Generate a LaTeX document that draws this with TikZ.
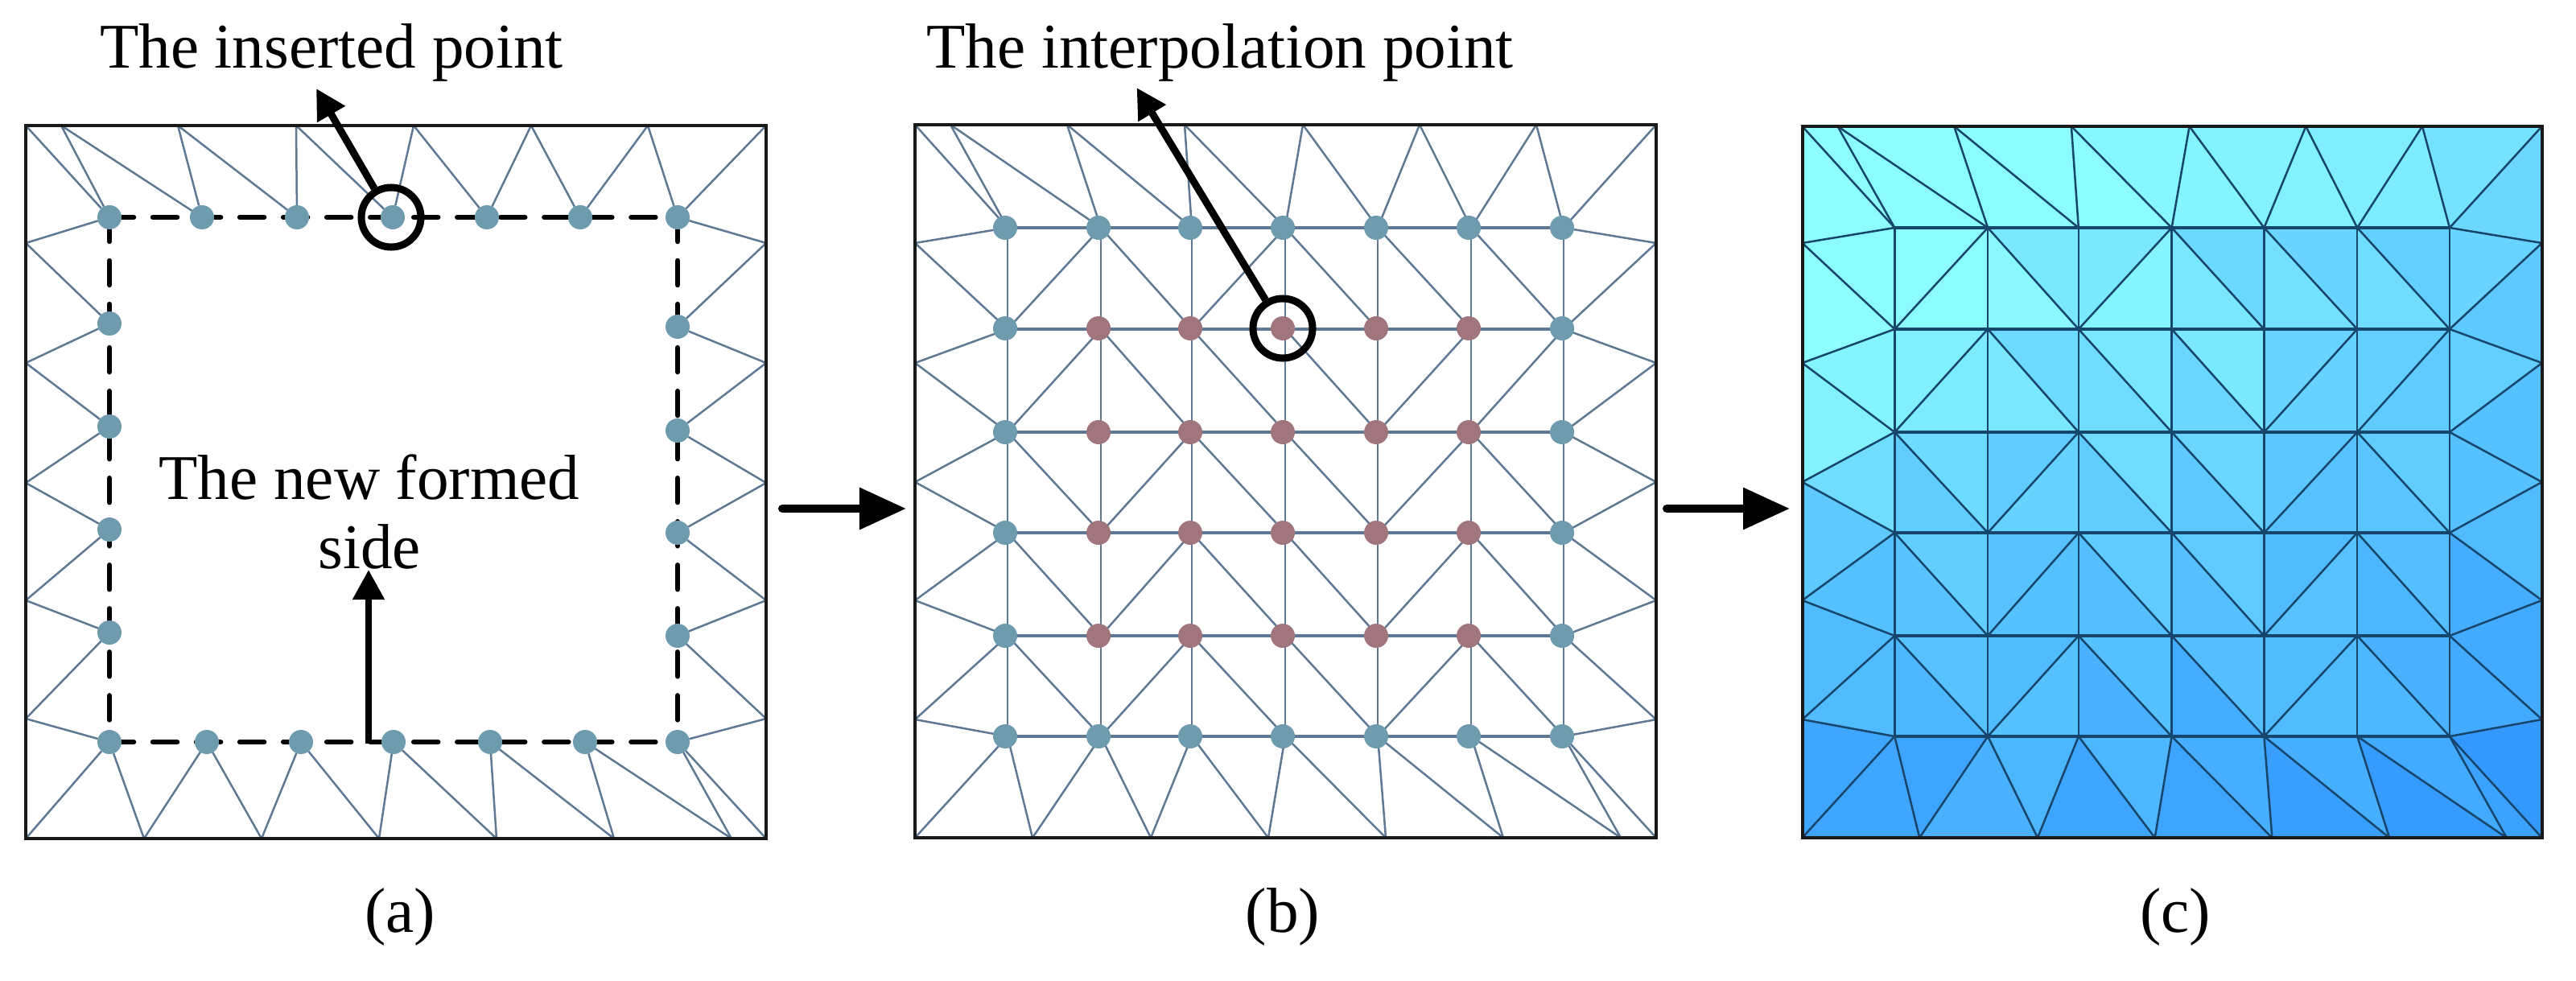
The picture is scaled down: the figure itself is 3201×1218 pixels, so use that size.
\documentclass[tikz,border=0pt]{standalone}
\usepackage{fontspec}
\setmainfont{Liberation Serif}
\usetikzlibrary{arrows.meta}
\pgfdeclarelayer{front}
\pgfsetlayers{main,front}
\definecolor{clight}{HTML}{8EFFFF}
\definecolor{cdark}{HTML}{3399FF}
\definecolor{meshgrey}{HTML}{5F7893}
\definecolor{meshdark}{HTML}{17466C}
\definecolor{dotteal}{HTML}{6F9BAE}
\definecolor{dotred}{HTML}{A0757C}
\tikzset{
  x=0.01cm,y=-0.01cm,
  frameline/.style={draw=black!90,line width=0.04cm,line join=miter},
  meshthin/.style={line width=0.025cm},
  meshthick/.style={line width=0.036cm},
  tealdot/.style={circle,fill=dotteal,inner sep=0pt,outer sep=0pt,minimum size=0.30cm},
  reddot/.style={circle,fill=dotred,inner sep=0pt,outer sep=0pt,minimum size=0.30cm},
  ringmark/.style={circle,draw=black,line width=0.09cm,inner sep=0pt,minimum size=0.74cm},
  pointer/.style={draw=black,line width=0.09cm,-{Triangle[length=0.37cm,width=0.38cm]}},
  bigarrow/.style={draw=black,line width=0.10cm,line cap=round,-{Triangle[length=0.58cm,width=0.50cm]}},
  newside/.style={draw=black,line width=0.065cm,line cap=round,dash pattern=on 0.30cm off 0.24cm},
  lab/.style={anchor=base,inner sep=0pt,font=\fontsize{22.5}{27}\selectfont,align=center},
}
% outer boundary and inner grid of the mesh shared by panels b and c
\newcommand\meshpoints[2]{%
  \foreach \n/\xv in {0/1137,1/1181,2/1326,3/1472,4/1619,5/1764,6/1909,7/2058}{\coordinate (#1t\n) at (\xv,#2);}
  \foreach \n/\xv in {0/1137,1/1283,2/1430,3/1576,4/1722,5/1868,6/2014,7/2058}{\coordinate (#1b\n) at (\xv,1041);}
  \foreach \n/\yv in {1/302,2/451,3/599,4/746,5/894}{\coordinate (#1l\n) at (1137,\yv);\coordinate (#1r\n) at (2058,\yv);}
  \foreach \i/\xv in {0/1252,1/1368,2/1481,3/1597,4/1712,5/1828,6/1943}{
    \foreach \j/\yv in {0/283,1/409,2/537,3/662,4/790,5/915}{\coordinate (#1n\i\j) at (\xv,\yv);}}
}
\newcommand\meshlines[1]{%
  \foreach \pa/\pb in {t0/n00,t1/n00,t1/n10,t2/n10,t2/n20,t3/n20,t3/n30,t4/n30,t4/n40,t5/n40,t5/n50,t6/n50,t6/n60,t7/n60,
    n00/l1,l1/n01,n01/l2,l2/n02,n02/l3,l3/n03,n03/l4,l4/n04,n04/l5,l5/n05,n05/b0,n05/b1,b1/n15,n15/b2,b2/n25,n25/b3,b3/n35,n35/b4,b4/n45,n45/b5,b5/n55,n55/b6,b6/n65,n65/b7,
    n60/r1,r1/n61,n61/r2,r2/n62,n62/r3,r3/n63,n63/r4,r4/n64,n64/r5,r5/n65,
    n10/n01,n10/n21,n30/n21,n30/n41,n40/n51,n50/n61,
    n11/n02,n11/n22,n21/n32,n31/n42,n51/n42,n61/n52,
    n02/n13,n22/n13,n22/n33,n32/n43,n52/n43,n52/n63,
    n03/n14,n23/n14,n23/n34,n33/n44,n53/n44,n53/n64,
    n04/n15,n24/n15,n24/n35,n34/n45,n54/n45,n54/n65}
    {\draw[meshthin] (#1\pa) -- (#1\pb);}
  \foreach \j in {0,...,5}{\draw[meshthick] (#1n0\j) -- (#1n6\j);}
  \foreach \i in {0,...,6}{\draw[meshthin] (#1n\i0) -- (#1n\i5);}
}
\begin{document}
\begin{tikzpicture}
\useasboundingbox (0,0) rectangle (3201,1218);

% ---------- panel (a) ----------
\foreach \n/\xv in {0/32,1/76,2/221,3/368,4/514,5/660,6/805,7/952}{\coordinate (at\n) at (\xv,156);}
\foreach \n/\xv in {0/32,1/179,2/325,3/471,4/617,5/763,6/909,7/952}{\coordinate (ab\n) at (\xv,1042);}
\foreach \n/\yv in {1/302,2/451,3/600,4/746,5/893}{\coordinate (al\n) at (32,\yv);\coordinate (ar\n) at (952,\yv);}
\begin{pgfonlayer}{front}
\foreach \n/\xv in {1/136,2/251,3/369,4/488,5/605,6/721,7/842}{\node[tealdot] (ad\n) at (\xv,270) {};}
\foreach \n/\yv in {2/402,3/530,4/658,5/786}{\node[tealdot] (ae\n) at (136,\yv) {};}
\foreach \n/\yv in {2/406,3/535,4/662,5/790}{\node[tealdot] (af\n) at (842,\yv) {};}
\foreach \n/\xv in {1/136,2/257,3/374,4/489,5/609,6/727,7/842}{\node[tealdot] (ag\n) at (\xv,922) {};}
\node[ringmark] (ringa) at (486,270) {};
\end{pgfonlayer}
\draw[meshgrey,meshthin]
  (at0)--(ad1) (at1)--(ad1) (at1)--(ad2) (at2)--(ad2) (at2)--(ad3) (at3)--(ad3) (at3)--(ad4) (at4)--(ad4) (at4)--(ad5) (at5)--(ad5) (at5)--(ad6) (at6)--(ad6) (at6)--(ad7) (at7)--(ad7)
  (ad1)--(al1) (al1)--(ae2) (ae2)--(al2) (al2)--(ae3) (ae3)--(al3) (al3)--(ae4) (ae4)--(al4) (al4)--(ae5) (ae5)--(al5) (al5)--(ag1)
  (ad7)--(ar1) (ar1)--(af2) (af2)--(ar2) (ar2)--(af3) (af3)--(ar3) (ar3)--(af4) (af4)--(ar4) (ar4)--(af5) (af5)--(ar5) (ar5)--(ag7)
  (ag1)--(ab0) (ag1)--(ab1) (ab1)--(ag2) (ag2)--(ab2) (ab2)--(ag3) (ag3)--(ab3) (ab3)--(ag4) (ag4)--(ab4) (ab4)--(ag5) (ag5)--(ab5) (ab5)--(ag6) (ag6)--(ab6) (ab6)--(ag7) (ag7)--(ab7);
\draw[newside] (ad1.center)--(ad7.center);
\draw[newside] (ag1.center)--(ag7.center);
\draw[newside] (ad1.center)--(ag1.center);
\draw[newside] (ad7.center)--(ag7.center);
\draw[frameline] (at0)--(at7)--(ab7)--(ab0)--cycle;

\coordinate (tipa) at (393,110);
\draw[pointer] (ringa) -- (tipa);
\coordinate (sidefoot) at (458,924);
\coordinate (sidetip) at (458,708);
\draw[pointer,line width=0.08cm] (sidefoot) -- (sidetip);
\node[lab] (insertedlabel) at (412,84) {The inserted point};
\node[lab] (formedlabel) at (459,620) {The new formed};
\node[lab] (sidelabel) at (459,706) {side};
\node[lab] (capa) at (497,1158) {(a)};

% ---------- arrows between the panels ----------
\coordinate (arrowaS) at (972,632);
\coordinate (arrowaE) at (1126,632);
\draw[bigarrow] (arrowaS) -- (arrowaE);
\coordinate (arrowbS) at (2071,632);
\coordinate (arrowbE) at (2224,632);
\draw[bigarrow] (arrowbS) -- (arrowbE);

% ---------- panel (b) ----------
\meshpoints{p}{155}
\begin{scope}[meshgrey]\meshlines{p}\end{scope}
\draw[frameline] (pt0)--(pt7)--(pb7)--(pb0)--cycle;
\foreach \n/\xv in {1/1249,2/1365,3/1479,4/1594,5/1710,6/1825,7/1941}{
  \node[tealdot] (bd\n0) at (\xv,283) {};
  \node[tealdot] (bd\n5) at (\xv,915) {};}
\foreach \n/\yv in {1/408,2/537,3/662,4/790}{
  \node[tealdot] (bl\n) at (1249,\yv) {};
  \node[tealdot] (br\n) at (1941,\yv) {};
  \foreach \m/\xv in {2/1365,3/1479,4/1594,5/1710,6/1825}{\node[reddot] (bi\m\n) at (\xv,\yv) {};}}
\node[ringmark] (ringb) at (1594,408) {};
\coordinate (tipb) at (1412.5,109);
\draw[pointer] (ringb) -- (tipb);
\node[lab] (interplabel) at (1516,84) {The interpolation point};
\node[lab] (capb) at (1594,1158) {(b)};

% ---------- panel (c) ----------
\begin{scope}[shift={(1104.8,0)},xscale=0.998]
\meshpoints{q}{157}
\end{scope}
\foreach \v/\pa/\pb/\pc in {
 0/t0/t1/n00,2/t1/n00/n10,0/t1/t2/n10,2/t2/n10/n20,3/t2/t3/n20,3/t3/n20/n30,8/t3/t4/n30,10/t4/n30/n40,12/t4/t5/n40,12/t5/n40/n50,15/t5/t6/n50,17/t6/n50/n60,25/t6/t7/n60,35/t7/r1/n60,
 0/t0/l1/n00,2/n00/l1/n01,0/l1/l2/n01,10/l2/n01/n02,12/l2/l3/n02,30/l3/n02/n03,48/l3/l4/n03,55/l4/n03/n04,60/l4/l5/n04,60/l5/n04/n05,78/l5/b0/n05,
 78/n05/b0/b1,80/n05/b1/n15,68/b1/b2/n15,65/n15/b2/n25,78/b2/b3/n25,65/n25/b3/n35,80/b3/b4/n35,70/n35/b4/n45,84/b4/b5/n45,70/n45/b5/n55,88/b5/b6/n55,74/n55/b6/n65,82/b6/b7/n65,100/n65/b7/r5,
 75/r5/n64/n65,74/r4/r5/n64,72/r4/n64/n63,60/r3/r4/n63,55/r3/n62/n63,55/r2/r3/n62,42/r2/n61/n62,48/r1/r2/n61,38/r1/n60/n61,
 3/n00/n10/n01,2/n10/n01/n11,20/n10/n20/n21,6/n10/n11/n21,20/n20/n30/n21,10/n30/n21/n31,34/n30/n40/n41,22/n30/n31/n41,38/n40/n50/n51,27/n40/n41/n51,42/n50/n60/n61,30/n50/n51/n61,
 14/n01/n11/n02,18/n11/n02/n12,33/n11/n21/n22,22/n11/n12/n22,22/n21/n31/n32,32/n21/n22/n32,20/n31/n41/n42,36/n31/n32/n42,38/n41/n51/n42,40/n51/n42/n52,42/n51/n61/n52,46/n61/n52/n62,
 33/n02/n12/n13,44/n02/n03/n13,46/n12/n22/n13,40/n22/n13/n23,32/n22/n32/n33,45/n22/n23/n33,36/n32/n42/n43,48/n32/n33/n43,50/n42/n52/n43,54/n52/n43/n53,44/n52/n62/n63,52/n52/n53/n63,
 43/n03/n13/n14,53/n03/n04/n14,54/n13/n23/n14,55/n23/n14/n24,46/n23/n33/n34,58/n23/n24/n34,47/n33/n43/n44,57/n33/n34/n44,60/n43/n53/n44,54/n53/n44/n54,58/n53/n63/n64,65/n53/n54/n64,
 54/n04/n14/n15,64/n04/n05/n15,60/n14/n24/n15,55/n24/n15/n25,55/n24/n34/n35,68/n24/n25/n35,58/n34/n44/n45,72/n34/n35/n45,60/n44/n54/n45,60/n54/n45/n55,68/n54/n64/n65,64/n54/n55/n65}
 {\pgfmathtruncatemacro\tv{min(100,1.12*\v)}%
  \path[fill=cdark!\tv!clight,draw=cdark!\tv!clight,line width=0.01cm,line join=round] (q\pa)--(q\pb)--(q\pc)--cycle;}
\begin{scope}[meshdark]\meshlines{q}\end{scope}
\draw[frameline] (qt0)--(qt7)--(qb7)--(qb0)--cycle;
\node[lab] (capc) at (2703,1158) {(c)};
\end{tikzpicture}
\end{document}
